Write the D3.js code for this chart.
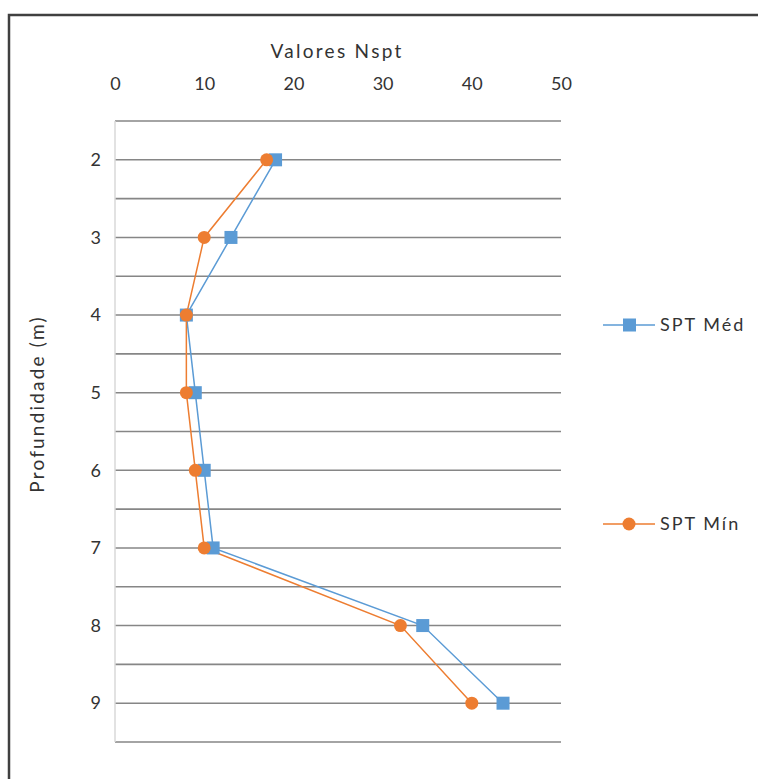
<!DOCTYPE html>
<html>
<head>
<meta charset="utf-8">
<script src="https://cdn.jsdelivr.net/npm/d3@7"></script>
<style>
  body { margin: 0; background: #fff; }
  text { font-family: Lato, "Open Sans", sans-serif; fill: #333333; }
</style>
</head>
<body>
<div id="chart"></div>
<script>
// Perfil SPT - Nspt por profundidade

const depths = [2, 3, 4, 5, 6, 7, 8, 9];
const sptMed = [18, 13, 8, 9, 10, 11, 34.5, 43.5];
const sptMin = [17, 10, 8, 8, 9, 10, 32, 40];
const xTicks = [0, 10, 20, 30, 40, 50];
const seriesNames = ["SPT Méd", "SPT Mín"];

const width = 758;
const height = 779;
const plot = {left: 115, right: 561, top: 121, bottom: 742};

const svg = d3.select("#chart")
    .append("svg")
    .attr("width", width)
    .attr("height", height);

// moldura (só esquerda e topo aparecem no recorte)
svg.append("path")
    .attr("d", `M9,${height} V15 H${width}`)
    .attr("fill", "none")
    .attr("stroke", "#404040")
    .attr("stroke-width", 2.5);

const x = d3.scaleLinear().domain([0, 50]).range([plot.left, plot.right]);
const y = d3.scaleLinear().domain([1.5, 9.5]).range([plot.top, plot.bottom]);

// linhas de grade a cada 0.5 m
const gridVals = d3.range(1.5, 9.51, 0.5);
svg.append("g")
    .selectAll("line")
    .data(gridVals)
    .join("line")
    .attr("x1", plot.left)
    .attr("x2", plot.right)
    .attr("y1", d => y(d))
    .attr("y2", d => y(d))
    .attr("stroke", "#868686")
    .attr("stroke-width", 1.6);

svg.append("line")
    .attr("x1", plot.left).attr("x2", plot.left)
    .attr("y1", plot.top).attr("y2", plot.bottom)
    .attr("stroke", "#d9d9d9")
    .attr("stroke-width", 1.5);

// eixo X no topo
const xAxis = svg.append("g")
    .attr("transform", `translate(0, 90)`)
    .call(d3.axisTop(x).tickValues(xTicks).tickSize(0).tickPadding(0));
xAxis.select(".domain").remove();
xAxis.selectAll("text").style("font-size", "18px").attr("fill", "#333333");

// eixo Y
const yAxis = svg.append("g")
    .attr("transform", `translate(${plot.left}, 0)`)
    .call(d3.axisLeft(y).tickValues(depths).tickSize(0).tickPadding(14));
yAxis.select(".domain").remove();
yAxis.selectAll("text").style("font-size", "18px").attr("fill", "#333333");

svg.append("text")
    .attr("x", 337)
    .attr("y", 58)
    .attr("text-anchor", "middle")
    .style("font-size", "19px")
    .style("letter-spacing", "2.3px")
    .text("Valores Nspt");

svg.append("text")
    .attr("transform", `translate(44, 404) rotate(-90)`)
    .attr("text-anchor", "middle")
    .style("font-size", "19px")
    .style("letter-spacing", "2.2px")
    .text("Profundidade (m)");

const line = d3.line()
    .x(d => x(d[1]))
    .y(d => y(d[0]));

const medData = depths.map((d, i) => [d, sptMed[i]]);
const minData = depths.map((d, i) => [d, sptMin[i]]);

svg.append("path")
    .datum(medData)
    .attr("d", line)
    .attr("fill", "none")
    .attr("stroke", "#5B9BD5")
    .attr("stroke-width", 1.5);

svg.append("path")
    .datum(minData)
    .attr("d", line)
    .attr("fill", "none")
    .attr("stroke", "#ED7D31")
    .attr("stroke-width", 1.5);

svg.append("g")
    .selectAll("rect")
    .data(medData)
    .join("rect")
    .attr("x", d => x(d[1]) - 6.5)
    .attr("y", d => y(d[0]) - 6.5)
    .attr("width", 13)
    .attr("height", 13)
    .attr("fill", "#5B9BD5");

svg.append("g")
    .selectAll("circle")
    .data(minData)
    .join("circle")
    .attr("cx", d => x(d[1]))
    .attr("cy", d => y(d[0]))
    .attr("r", 6.5)
    .attr("fill", "#ED7D31");

// legenda
const legend = svg.append("g");
const legendY = [325, 524];
const colors = ["#5B9BD5", "#ED7D31"];
seriesNames.forEach((name, i) => {
    const g = legend.append("g").attr("transform", `translate(603, ${legendY[i]})`);
    g.append("line")
        .attr("x1", 0).attr("x2", 52)
        .attr("stroke", colors[i])
        .attr("stroke-width", 1.5);
    if (i === 0) {
        g.append("rect").attr("x", 20).attr("y", -6.5).attr("width", 13).attr("height", 13).attr("fill", colors[i]);
    } else {
        g.append("circle").attr("cx", 26).attr("r", 6.5).attr("fill", colors[i]);
    }
    g.append("text")
        .attr("x", 57)
        .attr("dy", "0.35em")
        .style("font-size", "18px")
        .style("letter-spacing", "2px")
        .text(name);
});
</script>
</body>
</html>
